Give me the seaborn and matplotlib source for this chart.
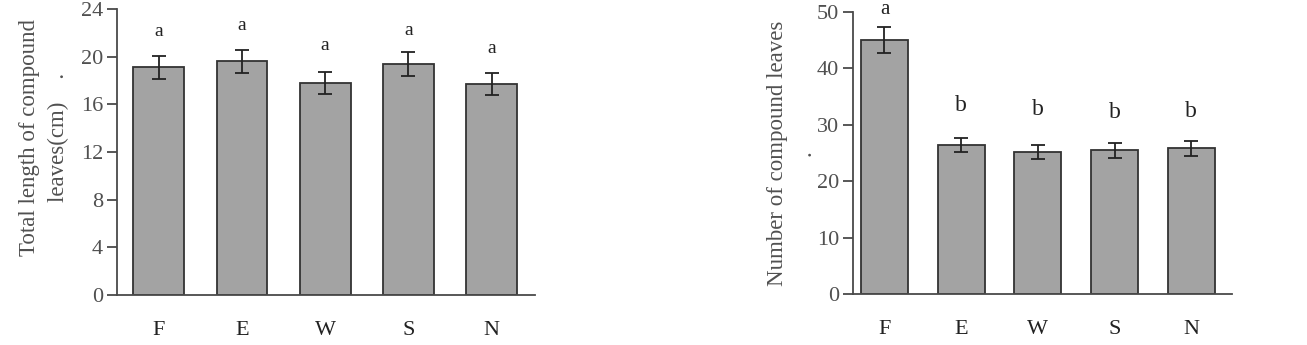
import matplotlib
matplotlib.use("Agg")
import matplotlib.pyplot as plt
import seaborn as sns
import numpy as np
import pandas as pd

categories = ["F", "E", "W", "S", "N"]
length_mean = [19.1, 19.6, 17.8, 19.4, 17.7]
length_err = [0.95, 1.0, 0.9, 1.0, 0.9]
length_letters = ["a", "a", "a", "a", "a"]
count_mean = [45.0, 26.4, 25.2, 25.5, 25.8]
count_err = [2.3, 1.3, 1.3, 1.3, 1.3]
count_letters = ["a", "b", "b", "b", "b"]

sns.set_theme(style="white")
plt.rcParams["font.family"] = ["Liberation Serif", "DejaVu Serif"]

fig = plt.figure(figsize=(13.07, 3.45), dpi=100)
ax1 = fig.add_axes([117 / 1307, 50 / 345, 418 / 1307, 286 / 345])
ax2 = fig.add_axes([853 / 1307, 51 / 345, 379 / 1307, 282 / 345])

BAR = "#a3a3a3"
EDGE = "#333333"
AXC = "#4a4a4a"
TXT = "#505050"


def draw(ax, means, errs, letters, ylim, yticks, ylabel, xlim, pads, lab_x, lab_y,
         letter_sizes, lsp):
    df = pd.DataFrame({"cat": categories, "val": means})
    sns.barplot(data=df, x="cat", y="val", color=BAR, edgecolor=EDGE, linewidth=1.3,
                width=0.61, saturation=1, errorbar=None, ax=ax)
    ax.errorbar(np.arange(len(categories)), means, yerr=errs, fmt="none",
                ecolor="#222222", elinewidth=1.3, capsize=5, capthick=1.3)
    for i, (m, e, t) in enumerate(zip(means, errs, letters)):
        ax.text(i, m + e + pads[i], t, ha="center", va="center",
                fontsize=letter_sizes[i], color="#222222", clip_on=False)
    ax.set_ylim(*ylim)
    ax.set_yticks(yticks)
    ax.set_xlim(*xlim)
    ax.set_xlabel("")
    ax.set_ylabel(ylabel, fontsize=16.5, color=TXT, linespacing=lsp, va="center")
    ax.yaxis.set_label_coords(lab_x, lab_y)
    for s in ["top", "right"]:
        ax.spines[s].set_visible(False)
    for s in ["left", "bottom"]:
        ax.spines[s].set_color(AXC)
        ax.spines[s].set_linewidth(1.3)
    ax.tick_params(axis="y", left=True, length=7, width=1.3, color=AXC,
                   labelsize=16, labelcolor=TXT, pad=3)
    ax.tick_params(axis="x", bottom=False, labelsize=16, labelcolor="#222222", pad=13)


draw(ax1, length_mean, length_err, length_letters, (0, 24), [0, 4, 8, 12, 16, 20, 24],
     "Total length of compound\nleaves(cm)    .", (-0.5, 4.52),
     [2.1, 2.0, 2.2, 1.8, 2.1], -0.175, 0.55, [14, 14, 14, 14, 14], 1.45)
draw(ax2, count_mean, count_err, count_letters, (0, 50), [0, 10, 20, 30, 40, 50],
     "Number of compound leaves\n.", (-0.41, 4.53),
     [3.2, 5.7, 6.2, 5.3, 5.2], -0.163, 0.5, [15, 17, 17, 17, 17], 1.35)

fig.savefig("out.png", dpi=100)
